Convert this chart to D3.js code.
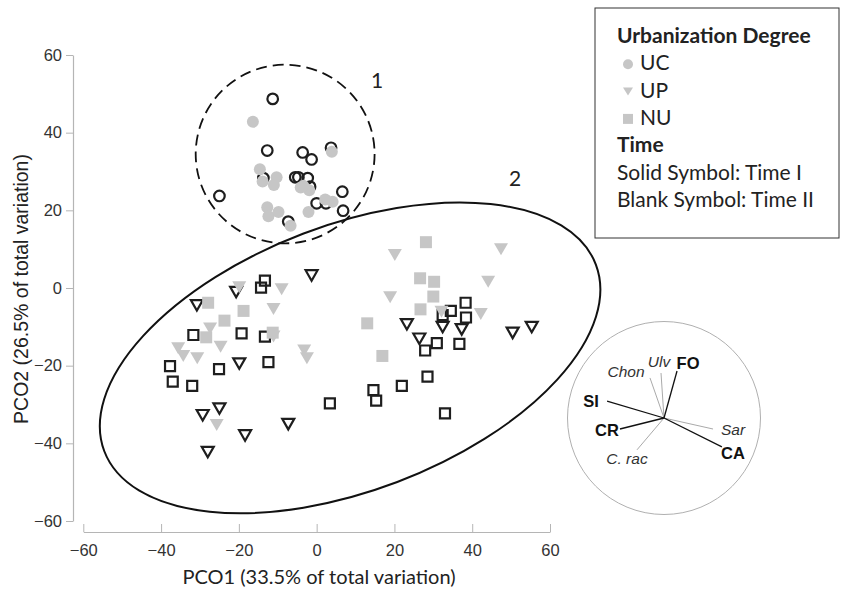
<!DOCTYPE html>
<meta charset="utf-8">
<style>
  body { margin: 0; background: #fff; }
  .axis path, .axis line { stroke: #b5b5b5; }
  .axis text { font-family: "Liberation Sans", Arial, sans-serif; font-size: 16.5px; fill: #333; }
  .lab { font-family: Lato, "Open Sans", sans-serif; fill: #222; }
  .vlab { font-family: "Liberation Sans", Arial, sans-serif; fill: #222; }
</style>
<body></body>
<script src="https://d3js.org/d3.v7.min.js"></script>
<script>
// PCO scores, [PCO1, PCO2]
// UC = circles, UP = triangles, NU = squares; time I solid, time II blank
var ucTime1 = [[-16.4,42.8],[-14.6,30.6],[-13.9,27.4],[-10.3,28.5],[-11.0,26.5],[-4.1,25.9],[-1.9,25.2],
  [3.9,35.1],[-12.7,20.8],[-12.4,18.5],[-9.8,19.6],[-2.1,19.6],[2.2,22.8],[4.1,22.2],[-6.7,16.0],[-3.4,26.3]];
var ucTime2 = [[-11.3,48.7],[-12.7,35.4],[-3.6,34.9],[-1.3,33.1],[3.7,36.1],[-25.0,23.7],[-13.7,28.3],
  [-5.5,28.5],[-4.7,28.5],[-2.3,28.3],[-1.7,26.1],[6.6,24.8],[0.0,21.8],[2.4,21.8],[6.8,19.9],[-7.3,17.1]];
var upTime1 = [[-19.9,0.2],[-9.0,-0.3],[-11.1,-5.4],[-27.4,-10.4],[-24.7,-15.1],[-35.6,-15.5],[-34.3,-17.5],
  [-30.7,-18.1],[-11.1,-12.5],[-3.2,-16.1],[-2.5,-18.1],[-25.7,-35.3],[20.1,8.5],[47.4,10.0],[44.1,1.6],
  [18.9,-2.4],[32.1,-6.1],[42.2,-6.7]];
var upTime2 = [[-1.3,3.3],[-30.8,-4.4],[-20.7,-1.0],[-19.9,-19.4],[-25.0,-31.0],[-29.3,-32.7],[-7.3,-35.0],
  [-18.4,-37.9],[-28.0,-42.2],[23.2,-9.3],[32.4,-10.0],[37.3,-10.6],[26.4,-13.0],[50.4,-11.5],[55.3,-10.0]];
var nuTime1 = [[-27.9,-3.8],[-18.8,-5.9],[-23.7,-8.4],[-28.4,-12.7],[-11.3,-11.5],[28.1,11.8],[26.6,2.5],
  [30.2,1.6],[30.0,-2.2],[26.7,-5.5],[13.0,-9.1],[16.9,-17.5]];
var nuTime2 = [[-13.3,1.9],[-14.3,0.1],[-31.7,-12.1],[-19.3,-11.7],[-13.3,-12.5],[-37.7,-20.1],[-37.0,-24.1],
  [-32.0,-25.2],[-25.1,-20.9],[-12.4,-19.1],[3.4,-29.7],[14.6,-26.3],[15.3,-29.0],[38.3,-3.8],[38.4,-7.6],
  [34.5,-5.9],[32.4,-7.0],[30.9,-14.2],[27.9,-16.1],[36.7,-14.4],[28.5,-22.8],[21.9,-25.2],[33.0,-32.3]];

var ticks = [-60, -40, -20, 0, 20, 40, 60];

// vector overlay (correlations with PCO axes)
var vecNames = ["FO", "Ulv", "Chon", "SI", "CR", "C. rac", "Sar", "CA"];
var vecX = [0.135, -0.031, -0.145, -0.59, -0.456, -0.28, 0.508, 0.60];
var vecY = [0.487, 0.466, 0.415, 0.176, -0.114, -0.33, -0.114, -0.30];
var boldVectors = ["FO", "SI", "CR", "CA"];

// cluster outlines, data units: [cx, cy, rx, ry, angle]
var cluster1 = [-8.1, 34.5, 23, 23, 0];
var cluster2 = [8.6, -18.0, 67.6, 34.2, 20.8];

var svg = d3.select("body").append("svg")
  .attr("width", 842)
  .attr("height", 592);

var x = d3.scaleLinear().domain([-60, 60]).range([83.3, 550]);
var y = d3.scaleLinear().domain([-60, 60]).range([521, 55]);

// axes
var yaxis = d3.axisLeft(y).tickValues(ticks).tickSize(7).tickSizeOuter(0).tickPadding(4);
var xaxis = d3.axisBottom(x).tickValues(ticks).tickSize(-8).tickSizeOuter(0).tickPadding(12);

svg.append("g").attr("class", "axis")
  .attr("transform", "translate(73,0)")
  .call(yaxis);

svg.append("g").attr("class", "axis")
  .attr("transform", "translate(0,532)")
  .call(xaxis);

svg.selectAll(".axis .domain").attr("stroke-width", 1.2);

svg.append("text").attr("class", "lab")
  .attr("x", 319).attr("y", 584)
  .attr("text-anchor", "middle")
  .style("font-size", "20px")
  .text("PCO1 (33.5% of total variation)");

svg.append("text").attr("class", "vlab")
  .attr("transform", "translate(28,289) rotate(-90)")
  .attr("text-anchor", "middle")
  .style("font-size", "19.5px")
  .text("PCO2 (26.5% of total variation)");

// cluster outlines
function outline(c) {
  return svg.append("ellipse")
    .attr("cx", x(c[0])).attr("cy", y(c[1]))
    .attr("rx", x(c[2]) - x(0)).attr("ry", y(0) - y(c[3]))
    .attr("transform", "rotate(" + (-c[4]) + "," + x(c[0]) + "," + y(c[1]) + ")")
    .attr("fill", "none").attr("stroke", "#111");
}
outline(cluster1).attr("stroke-width", 1.8).attr("stroke-dasharray", "11,6");
outline(cluster2).attr("stroke-width", 2);

svg.append("text").attr("class", "lab").attr("x", 377).attr("y", 88)
  .attr("text-anchor", "middle").style("font-size", "21px").text("1");
svg.append("text").attr("class", "lab").attr("x", 515).attr("y", 186)
  .attr("text-anchor", "middle").style("font-size", "21px").text("2");

// symbols
var tri = "M-7,-6L7,-6L0,6Z";
var sq = function(s) { return "M" + (-s) + "," + (-s) + "h" + (2 * s) + "v" + (2 * s) + "h" + (-2 * s) + "Z"; };
var circ = function(r) { return d3.symbol().type(d3.symbolCircle).size(Math.PI * r * r)(); };

var grey = "#c6c6c6";
var ink = "#1e1e1e";

function plot(data, path, solid) {
  svg.append("g").selectAll("path")
    .data(data)
    .enter().append("path")
    .attr("d", path)
    .attr("transform", function(d) { return "translate(" + x(d[0]) + "," + y(d[1]) + ")"; })
    .attr("fill", solid ? grey : "none")
    .attr("stroke", solid ? "none" : ink)
    .attr("stroke-width", solid ? 0 : 2.2);
}

// blank (time II) first, solid (time I) over them
plot(ucTime2, circ(5.3), false);
plot(upTime2, "M-6,-5L6,-5L0,5.5Z", false);
plot(nuTime2, sq(5), false);
plot(ucTime1, circ(6), true);
plot(upTime1, tri, true);
plot(nuTime1, sq(6), true);

// vector circle
var vcx = 664, vcy = 418, vr = 96.5;
var vx = d3.scaleLinear().domain([-1, 1]).range([vcx - vr, vcx + vr]);
var vy = d3.scaleLinear().domain([-1, 1]).range([vcy + vr, vcy - vr]);

svg.append("circle")
  .attr("cx", vx(0)).attr("cy", vy(0)).attr("r", vr)
  .attr("fill", "none").attr("stroke", "#b0b0b0").attr("stroke-width", 1);

var vecs = vecNames.map(function(n, i) { return {name: n, x: vecX[i], y: vecY[i], bold: boldVectors.indexOf(n) >= 0}; });

// grey ones under the black ones
vecs.sort(function(a, b) { return a.bold - b.bold; });

svg.append("g").selectAll("line")
  .data(vecs)
  .enter().append("line")
  .attr("x1", vx(0)).attr("y1", vy(0))
  .attr("x2", function(d) { return vx(d.x); })
  .attr("y2", function(d) { return vy(d.y); })
  .attr("stroke", function(d) { return d.bold ? "#111" : "#aaa"; })
  .attr("stroke-width", function(d) { return d.bold ? 1.3 : 1; });

var nudge = {"FO": [11, -8], "Ulv": [-2, -12], "Chon": [-24, -6], "SI": [-16, 0],
  "CR": [-13, 1], "C. rac": [-10, 9], "Sar": [20, 0], "CA": [11, 6]};

svg.append("g").selectAll("text")
  .data(vecs)
  .enter().append("text")
  .attr("class", "vlab")
  .attr("x", function(d) { return vx(d.x) + nudge[d.name][0]; })
  .attr("y", function(d) { return vy(d.y) + nudge[d.name][1]; })
  .attr("text-anchor", "middle")
  .attr("dominant-baseline", "central")
  .style("font-size", function(d) { return d.bold ? "16.5px" : "15.5px"; })
  .style("font-weight", function(d) { return d.bold ? "bold" : "normal"; })
  .style("font-style", function(d) { return d.bold ? "normal" : "italic"; })
  .style("fill", function(d) { return d.bold ? "#111" : "#333"; })
  .text(function(d) { return d.name; });

// legend
var legend = svg.append("g").attr("transform", "translate(595,8)");
legend.append("rect")
  .attr("width", 244).attr("height", 230)
  .attr("fill", "#fff").attr("stroke", "#333").attr("stroke-width", 1);

var legendRows = [
  {t: "Urbanization Degree", b: true},
  {t: "UC", sym: circ(5)},
  {t: "UP", sym: "M-5,-4L5,-4L0,4Z"},
  {t: "NU", sym: sq(5)},
  {t: "Time", b: true},
  {t: "Solid Symbol: Time I"},
  {t: "Blank Symbol: Time II"}
];

legendRows.forEach(function(r, i) {
  var by = 35 + i * 27.3;
  var tx = r.sym ? 45 : 22;
  legend.append("text").attr("class", "lab")
    .attr("x", tx).attr("y", by)
    .style("font-size", "21px")
    .style("font-weight", r.b ? "bold" : "normal")
    .text(r.t);
  if (r.sym) {
    legend.append("path")
      .attr("d", r.sym)
      .attr("transform", "translate(33," + (by - 6) + ")")
      .attr("fill", grey);
  }
});
</script>
